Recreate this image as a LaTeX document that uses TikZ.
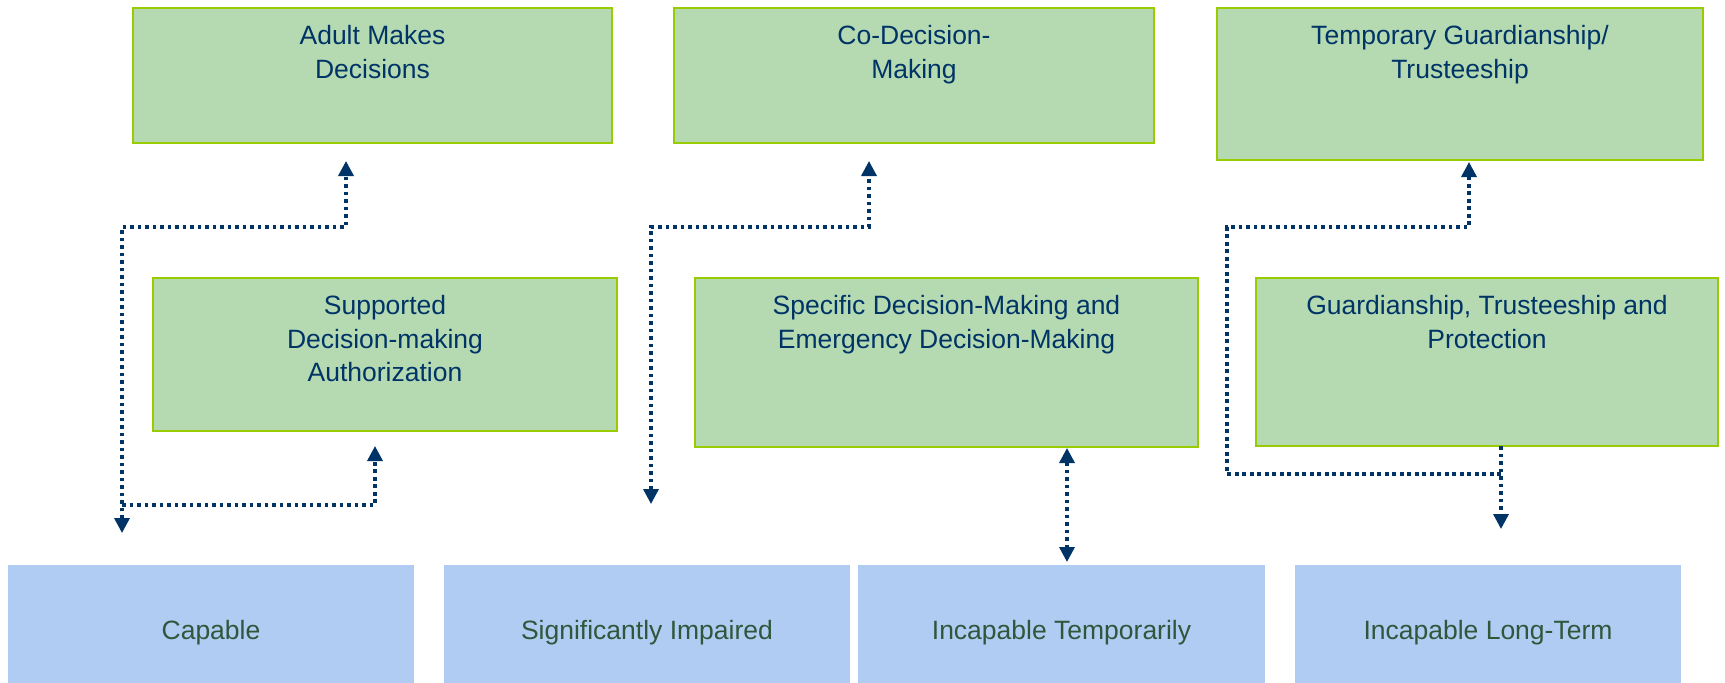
\documentclass[tikz,border=0pt]{standalone}
\usepackage{fontspec}
\setmainfont{Liberation Sans}
\usetikzlibrary{arrows.meta}
\definecolor{gfill}{RGB}{181,218,178}
\definecolor{gline}{RGB}{153,204,0}
\definecolor{bfill}{RGB}{176,204,242}
\definecolor{navy}{RGB}{0,51,102}
\definecolor{btxt}{RGB}{45,88,60}
\tikzset{
  gbox/.style={draw=gline, line width=2pt, fill=gfill, inner sep=0pt, outer sep=0pt, anchor=north west},
  bbox/.style={fill=bfill, inner sep=0pt, outer sep=0pt, anchor=north west},
  gtext/.style={text=navy, align=center, inner sep=0pt, anchor=north, font=\fontsize{26.5}{33.5}\selectfont},
  btext/.style={text=btxt, inner sep=0pt, anchor=base, font=\fontsize{26.5}{33.5}\selectfont},
  conn/.style={draw=navy, line width=3.4pt, dash pattern=on 3.6pt off 3.9pt, arrows={-}, >={Triangle[width=15pt,length=15pt]}}
}
\begin{document}
\begin{tikzpicture}[x=1pt,y=-1pt]
\useasboundingbox (0,0) rectangle (1725,683);
% top boxes
\node[gbox, minimum width=479pt, minimum height=135pt] (adult) at (133,8) {};
\node[gbox, minimum width=480pt, minimum height=135pt] (codm) at (674,8) {};
\node[gbox, minimum width=486pt, minimum height=151.5pt] (temp) at (1217,8) {};
% middle boxes
\node[gbox, minimum width=464pt, minimum height=153pt] (supp) at (153,278) {};
\node[gbox, minimum width=503pt, minimum height=169pt] (spec) at (695,278) {};
\node[gbox, minimum width=462pt, minimum height=168pt] (guard) at (1256,278) {};
% bottom boxes
\node[bbox, minimum width=406pt, minimum height=118pt] (cap) at (8,565) {};
\node[bbox, minimum width=406pt, minimum height=118pt] (sig) at (444,565) {};
\node[bbox, minimum width=407pt, minimum height=118pt] (itemp) at (858,565) {};
\node[bbox, minimum width=386pt, minimum height=118pt] (ilong) at (1295,565) {};
% texts
\node[gtext] (adult-t) at ([yshift=-17.5pt]adult.north) {Adult Makes\\Decisions};
\node[gtext] (codm-t) at ([yshift=-17.5pt]codm.north) {Co-Decision-\\Making};
\node[gtext] (temp-t) at ([yshift=-17.5pt]temp.north) {Temporary Guardianship/\\Trusteeship};
\node[gtext] (supp-t) at ([yshift=-17.5pt]supp.north) {Supported\\Decision-making\\Authorization};
\node[gtext] (spec-t) at ([yshift=-17.5pt]spec.north) {Specific Decision-Making and\\Emergency Decision-Making};
\node[gtext] (guard-t) at ([yshift=-17.5pt]guard.north) {Guardianship, Trusteeship and\\Protection};
\coordinate (bl) at (0,639);
\node[btext] (cap-t) at (cap.center |- bl) {Capable};
\node[btext] (sig-t) at (sig.center |- bl) {Significantly Impaired};
\node[btext] (itemp-t) at (itemp.center |- bl) {Incapable Temporarily};
\node[btext] (ilong-t) at (ilong.center |- bl) {Incapable Long-Term};
% connectors column 1
\coordinate (k1) at (122,227);
\coordinate (k2) at (346,227);
\coordinate (k3) at (122,505);
\coordinate (k4) at (375,505);
\draw[conn,<->,shorten <=32pt,shorten >=18pt] (k1 |- cap.north) -- (k1) -- (k2) -- (k2 |- adult.south);
\draw[conn,->,shorten >=15pt] (k3) -- (k4) -- (k4 |- supp.south);
% column 2
\coordinate (m1) at (651,227);
\coordinate (m2) at (869,227);
\draw[conn,<->,shorten <=61pt,shorten >=18pt] (m1 |- sig.north) -- (m1) -- (m2) -- (m2 |- codm.south);
% column 3
\coordinate (v) at (1067,500);
\draw[conn,<->,shorten <=1pt,shorten >=3pt] (v |- spec.south) -- (v |- itemp.north);
% column 4
\coordinate (g1) at (1501,474);
\coordinate (g2) at (1227,474);
\coordinate (g3) at (1227,227);
\coordinate (g4) at (1469,227);
\draw[conn,->,shorten >=36pt] (g1 |- guard.south) -- (g1 |- ilong.north);
\draw[conn,->,shorten >=2.5pt] (g1) -- (g2) -- (g3) -- (g4) -- (g4 |- temp.south);
\end{tikzpicture}
\end{document}
